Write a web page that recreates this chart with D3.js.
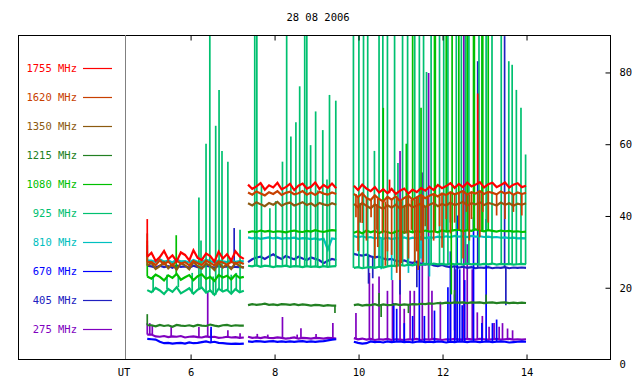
<!DOCTYPE html>
<html><head><meta charset="utf-8">
<script src="https://cdn.jsdelivr.net/npm/d3@7"></script>
<style>body{margin:0;background:#fff;} svg{display:block;font-family:"DejaVu Sans Mono",monospace;}</style>
</head><body><svg id="c" width="640" height="384"></svg>
<script>
const title = "28 08 2006";
const freqs = ["1755 MHz","1620 MHz","1350 MHz","1215 MHz","1080 MHz","925 MHz","810 MHz","670 MHz","405 MHz","275 MHz"];
const colors = ["#ff0000","#c84000","#8c5a10","#228022","#00c000","#00c070","#00c0c0","#0000ff","#2020c0","#8000c0"];
const segStarts = [4.98, 7.38, 9.90];
const segCounts = [24, 22, 42];
const step = 0.1;
const xTicks = [6, 8, 10, 12, 14];
const yTicks = [0, 20, 40, 60, 80];

// sampled readings (seg1 | seg2 | seg3)
const f1755 = [28.5,29.6,27.3,28.4,30.1,27.8,28.9,27.2,29.7,29.0,27.5,30.3,28.2,27.6,29.4,28.7,27.1,29.9,28.0,29.2,27.4,30.0,28.6,27.9,
 48.6,47.4,48.1,49.0,47.2,48.4,47.8,49.1,47.3,47.9,48.8,47.1,48.3,48.9,47.5,48.0,49.2,47.4,48.5,47.7,48.9,47.6,
 48.3,47.1,48.6,47.5,46.8,47.9,46.4,47.3,46.2,47.4,46.0,46.9,47.5,46.1,47.2,46.5,47.6,46.9,48.0,47.1,48.5,47.6,48.2,49.0,47.7,48.8,47.9,49.2,48.1,48.6,49.3,47.8,48.7,49.1,47.9,48.5,49.2,47.8,48.6,49.0,47.9,48.3];
const f1620 = [27.0,27.0,26.2,27.5,26.4,27.2,26.0,27.4,26.6,27.0,26.1,27.3,26.7,26.2,27.4,26.8,26.1,27.2,26.9,26.3,27.1,26.6,27.0,26.5,
 46.4,45.8,46.7,46.1,45.6,46.5,46.0,46.8,45.7,46.3,46.6,45.9,46.2,46.8,45.8,46.4,45.7,46.6,46.1,45.8,46.4,46.0,
 46.0,45.1,46.2,44.9,44.3,45.6,44.6,43.9,45.2,44.4,45.3,44.0,44.9,45.5,44.4,45.1,45.7,44.8,45.5,46.0,45.3,46.1,45.7,46.5,45.9,46.3,46.8,45.8,46.5,46.1,46.8,46.0,46.6,46.3,45.9,46.7,46.1,46.5,45.8,46.4,46.0,46.3];
const f1350 = [26.0,26.8,25.1,25.9,27.0,25.3,26.4,24.9,26.7,26.1,25.0,27.1,25.8,25.2,26.6,26.0,24.8,26.9,25.5,26.3,25.1,26.8,25.9,25.4,
 43.4,42.8,43.7,43.1,42.6,43.5,43.0,43.8,42.7,43.3,43.6,42.8,43.2,43.7,42.9,43.4,42.6,43.5,43.1,42.8,43.4,43.0,
 43.2,42.3,43.5,42.7,42.0,43.1,42.4,41.8,42.9,42.2,43.0,41.9,42.6,43.1,42.3,42.8,43.3,42.4,43.0,43.5,42.6,43.2,42.8,43.6,42.9,43.3,43.8,42.8,43.4,43.1,43.7,42.9,43.5,43.2,42.8,43.6,43.0,43.4,42.7,43.3,43.0,43.4];
const f1215 = [9.4,9.4,9.1,9.5,9.2,9.4,9.0,9.5,9.3,9.2,9.4,9.1,9.5,9.3,9.2,9.6,9.3,9.1,9.4,9.5,9.2,9.4,9.3,9.3,
 15.0,15.3,15.1,15.2,15.4,15.1,15.2,15.0,15.3,15.2,15.1,15.3,15.0,15.2,15.1,14.9,15.1,15.0,14.8,15.0,14.9,14.9,
 15.0,15.2,14.9,15.1,15.0,15.3,14.9,15.2,15.0,15.1,15.3,15.0,15.2,15.1,15.3,15.2,15.4,15.3,15.5,15.4,15.6,15.5,15.7,15.6,15.8,15.7,15.8,15.6,15.8,15.7,15.8,15.6,15.7,15.8,15.6,15.7,15.8,15.6,15.7,15.6,15.7,15.6];
const f1080 = [23.0,22.4,23.5,22.9,21.9,23.3,22.6,23.7,22.1,22.8,23.4,22.0,23.1,23.6,22.3,22.9,21.8,23.4,22.7,23.2,22.2,23.5,22.6,22.9,
 35.3,35.6,35.4,35.8,35.5,35.7,35.4,35.6,35.5,35.3,35.6,35.8,35.5,35.4,35.7,35.5,35.9,35.6,35.4,35.7,35.9,35.8,
 35.2,35.6,35.0,35.8,35.3,35.7,35.1,35.6,35.4,35.0,35.5,35.8,35.2,35.6,35.3,35.7,35.4,35.8,35.5,35.6,35.3,35.9,35.5,35.7,35.9,36.0,35.6,35.9,35.7,36.1,35.8,35.6,35.9,35.7,35.5,35.8,35.6,35.7,35.5,35.6,35.4,35.5];
const f925 = [19.2,18.6,19.8,19.1,18.1,19.5,18.7,20.0,18.3,19.0,19.7,18.2,19.3,19.9,18.5,19.1,17.9,19.6,18.8,19.3,18.2,19.5,18.6,19.0,
 26.0,25.8,26.1,25.7,26.0,25.9,25.6,25.9,25.8,26.0,25.7,25.9,25.8,25.6,25.9,25.7,25.8,25.6,25.9,25.7,25.8,25.9,
 25.4,25.6,25.3,25.5,25.6,25.4,25.7,25.5,25.8,26.0,25.9,26.2,26.0,26.3,26.1,26.4,26.2,26.5,26.3,26.6,26.4,26.5,26.3,26.6,26.4,26.5,26.3,26.6,26.4,26.5,26.3,26.5,26.4,26.6,26.3,26.5,26.4,26.5,26.3,26.4,26.5,26.4];
const f810 = [27.4,27.4,27.0,27.8,27.1,27.5,26.9,27.7,27.2,27.3,26.9,27.6,27.1,27.0,27.7,27.3,26.9,27.5,27.2,27.0,27.4,27.1,27.3,27.2,
 33.9,33.6,33.8,33.5,33.7,33.9,33.6,33.8,33.5,33.7,33.6,33.8,33.5,33.7,33.6,33.4,33.6,33.3,33.5,30.5,33.6,33.4,
 34.3,33.9,34.2,33.8,34.0,33.6,33.9,33.5,33.8,33.4,33.7,33.6,33.9,33.5,33.8,33.6,34.0,33.7,33.9,33.8,34.1,33.9,34.2,34.0,34.3,34.1,34.2,34.0,34.3,34.1,34.2,34.0,34.1,33.9,34.0,33.8,33.9,33.7,33.8,33.6,33.7,33.6];
const f670 = [5.6,5.5,5.4,4.8,4.4,4.5,4.3,4.4,4.5,4.3,4.6,4.4,4.5,4.7,4.9,4.6,4.8,4.5,4.4,4.3,4.2,4.3,4.2,4.3,
 4.9,4.8,5.0,4.9,4.8,4.9,5.0,4.8,4.9,4.8,4.9,4.8,4.9,5.0,4.8,4.9,4.8,4.9,5.0,5.2,5.4,5.5,
 4.8,4.5,4.3,4.4,4.9,4.7,4.8,4.6,4.9,4.7,4.8,4.9,4.7,4.8,4.6,4.8,4.9,4.7,4.8,4.7,4.9,4.8,4.6,4.8,4.7,4.9,4.8,4.7,4.9,4.8,4.7,4.8,4.9,4.7,4.8,4.9,4.8,4.6,4.7,4.8,4.9,4.8];
const f405 = [26,25.8,25.5,26.0,25.6,25.9,25.4,26.1,25.7,25.8,25.5,26.0,25.6,25.5,26.0,25.7,25.5,25.9,25.6,25.8,25.5,25.7,25.6,25.6,
 27.0,27.8,28.3,28.5,27.9,28.6,29.2,28.4,27.9,28.7,28.2,27.8,28.5,28.0,27.6,28.3,27.9,27.5,26.7,27.4,27.9,27.6,
 29.3,29.0,28.8,29.1,28.6,28.3,28.5,28.0,27.7,27.9,27.4,27.2,27.5,27.0,26.8,27.1,26.5,26.3,26.6,26.1,25.9,26.2,25.8,25.6,25.9,25.5,25.7,25.4,25.6,25.3,25.5,25.4,25.6,25.3,25.5,25.4,25.6,25.3,25.5,25.4,25.5,25.4];
const f275 = [6.8,6.8,6.3,6.2,6.4,6.1,6.3,6.2,6.4,6.0,6.2,6.3,6.1,6.0,6.3,6.1,6.2,5.9,6.0,6.2,6.0,6.1,5.9,6.0,
 6.2,5.9,6.0,5.8,6.1,5.9,5.8,6.0,5.9,5.7,5.8,6.0,5.7,5.9,5.8,5.7,5.9,5.8,5.7,5.9,5.8,5.7,
 5.8,5.5,5.7,5.4,5.6,5.3,5.5,5.4,5.6,5.3,5.5,5.4,5.3,5.5,5.4,5.6,5.3,5.5,5.4,5.6,5.5,5.3,5.5,5.4,5.6,5.5,5.4,5.6,5.5,5.4,5.6,5.5,5.4,5.5,5.6,5.4,5.5,5.6,5.4,5.5,5.4,5.5];

// spikes: [hour, peak value]
const s1755 = [[4.98,39],[12.85,74],[10.75,50]];
const s1620 = [[4.98,33],[9.95,39.5],[10.0,30],[10.1,37.9],[10.2,33],[10.31,39.5],[10.4,28],[10.47,31.2],[10.58,35],[10.65,26],[10.7,30],[10.8,29],[10.92,24],[11.0,22],[11.03,26.7],[11.15,35],[11.2,28],[11.27,36],[11.35,27],[11.4,30],[11.43,24.8],[11.5,33],[11.55,27],[11.66,36],[11.8,33],[11.94,37],[12.0,31],[12.1,39],[12.2,35],[12.3,38],[12.4,36],[12.5,28],[12.58,41],[12.65,33],[12.7,39],[12.85,36],[12.9,34],[12.97,41],[13.1,38],[13.3,40],[13.5,39],[13.7,41],[13.9,40]];
const s1350 = [[4.98,35],[10.05,38],[10.45,36],[11.1,35],[11.6,37],[12.2,38]];
const s1215 = [[4.98,12.5],[9.45,12.8],[10.5,18.4],[10.55,11.7],[11.2,12.8],[12.3,19.2],[13.05,18]];
const s1080 = [[4.98,30],[5.67,34.5],[10.6,70],[11.15,60],[11.3,92],[11.5,70],[11.82,92],[11.84,92],[12.1,92],[12.22,18],[12.24,92],[12.4,92],[12.6,92],[12.75,92],[12.77,92],[12.95,92],[12.97,92],[13.1,92]];
const s925 = [[5.12,23],[5.45,23.5],[5.72,23],[6.05,24],[6.21,45],[6.26,33],[6.38,60],[6.47,92],[6.55,23],[6.61,65],[6.69,75],[6.76,58],[6.9,55],[6.98,23.5],[7.1,24],[7.19,36],
 [7.54,92],[7.59,92],[7.7,48.5],[7.9,42],[8.04,44],[8.2,55],[8.3,92],[8.4,62],[8.52,66],[8.61,76],[8.73,92],[8.78,92],[8.87,59.6],[8.99,69],[9.04,47],[9.16,63.8],[9.26,50],[9.32,73.6],[9.47,72],
 [9.89,92],[10.02,92],[10.13,92],[10.23,92],[10.39,58],[10.5,92],[10.59,92],[10.7,92],[10.87,92],[10.95,54.6],[11.06,92],[11.18,92],[11.35,92],[11.46,92],[11.56,92],[11.63,80],[11.74,92],[11.94,92],[12.04,92],[12.14,92],[12.34,92],[12.46,92],[12.56,92],[12.64,92],[12.88,92],[13.05,92],[13.19,92],[13.41,92],[13.59,83],[13.67,82],[13.77,75],[13.88,70],[13.99,57]];
const s810 = [[4.98,31.7],[10.55,25],[10.8,22],[11.2,24],[11.5,28],[11.7,23]];
const s670 = [[6.5,9],[10.85,15.6],[10.92,14],[11.1,10],[11.3,12],[11.46,32],[11.58,12],[11.82,13.5],[12.14,20],[12.2,30],[12.3,18],[12.36,40],[12.42,25],[12.48,15],[12.54,22],[12.75,39.5],[12.95,10],[13.05,39],[13.2,10],[13.3,11]];
const s405 = [[7.05,36.5],[10.25,21],[10.35,22.5],[11.0,18],[11.4,20],[12.3,8],[12.85,83],[13.49,90],[13.52,15]];
const s275 = [[4.98,10],[5.04,10],[5.1,9.5],[5.55,8.9],[6.21,8.9],[6.42,18.7],[6.5,8.2],[6.9,8],[7.19,7.2],
 [7.6,7],[7.85,6.8],[8.2,11.7],[8.55,6.8],[8.64,8.6],[9.0,7],[9.4,10],
 [9.95,12.8],[10.27,24],[10.35,21],[10.5,23],[10.7,19],[10.82,22],[11.0,58],[11.1,14],[11.24,19],[11.34,19],[11.53,52],[11.68,79.7],[11.76,19],[11.96,16],[12.2,16],[12.32,25],[12.52,90],[12.6,32],[12.72,25],[12.84,13],[12.96,12],[13.12,9],[13.24,10],[13.36,9],[13.44,10],[13.56,8.5],[13.68,8]];

const values = [f1755,f1620,f1350,f1215,f1080,f925,f810,f670,f405,f275];
const spikes = [s1755,s1620,s1350,s1215,s1080,s925,s810,s670,s405,s275];

const svg = d3.select("#c");
const L = 18, R = 610, T = 35, B = 359, UTX = 125;
const x = d3.scaleLinear().domain([4.45, 16]).range([UTX, R]);
const y = d3.scaleLinear().domain([0, 90.3]).range([B, T]);

svg.append("text").attr("x", 318).attr("y", 21).attr("text-anchor", "middle")
  .attr("font-size", 10.5).text(title);

svg.append("defs").append("clipPath").attr("id", "clip")
  .append("rect").attr("x", UTX).attr("y", T).attr("width", R - UTX).attr("height", B - T);

function sampleTimes() {
  const out = [];
  segStarts.forEach((s, k) => { for (let i = 0; i < segCounts[k]; i++) out.push({t: s + i * step, seg: k}); });
  return out;
}
const times = sampleTimes();

const plot = svg.append("g").attr("clip-path", "url(#clip)");
const line = d3.line().defined(d => d != null).x(d => x(d.t)).y(d => y(d.v));

for (let si = freqs.length - 1; si >= 0; si--) {
  const vals = values[si];
  const pts = [];
  vals.forEach((v, i) => {
    if (i > 0 && times[i].seg !== times[i - 1].seg) pts.push(null);
    pts.push({t: times[i].t, v: v});
  });
  const g = plot.append("g");
  spikes[si].forEach(([t, v]) => {
    let best = 0, bd = Infinity;
    times.forEach((tt, i) => { const d = Math.abs(tt.t - t); if (d < bd) { bd = d; best = i; } });
    const base = vals[best];
    g.append("line").attr("x1", x(t)).attr("x2", x(t)).attr("y1", y(base)).attr("y2", y(v))
      .attr("stroke", colors[si]).attr("stroke-width", 1.7);
  });
  g.append("path").datum(pts).attr("d", line).attr("fill", "none")
    .attr("stroke", colors[si]).attr("stroke-width", 2.2).attr("stroke-linejoin", "miter");
}

svg.append("rect").attr("x", L + 0.5).attr("y", T + 0.5).attr("width", R - L).attr("height", B - T)
  .attr("fill", "none").attr("stroke", "#000");
svg.append("line").attr("x1", UTX + 0.5).attr("x2", UTX + 0.5).attr("y1", T).attr("y2", B)
  .attr("stroke", "#808080");

const xAxisB = d3.axisBottom(x).tickValues(xTicks).tickSize(-5).tickPadding(9).tickFormat(d3.format("d"));
const gxb = svg.append("g").attr("transform", `translate(0.5,${B + 0.5})`).call(xAxisB);
gxb.select(".domain").remove();
const xAxisT = d3.axisTop(x).tickValues(xTicks).tickSize(-5).tickFormat("");
const gxt = svg.append("g").attr("transform", `translate(0.5,${T + 0.5})`).call(xAxisT);
gxt.select(".domain").remove();
svg.append("text").attr("x", 124).attr("y", 376).attr("text-anchor", "middle").attr("font-size", 10.5).text("UT");

const yAxis = d3.axisRight(y).tickValues(yTicks).tickSize(-5).tickPadding(9).tickFormat(d3.format("d"));
const gy = svg.append("g").attr("transform", `translate(${R + 0.5},0.5)`).call(yAxis);
gy.select(".domain").remove();
gy.selectAll(".tick").filter(d => d === 0).select("line").remove();
gy.selectAll(".tick").filter(d => d === 0).select("text").attr("dy", "0.75em");

svg.selectAll(".tick text").attr("font-family", "DejaVu Sans Mono, monospace").attr("font-size", 10.5).attr("fill", "#000");
svg.selectAll(".tick line").attr("stroke", "#000");

freqs.forEach((f, i) => {
  const ly = 68 + i * 29;
  svg.append("text").attr("x", 77).attr("y", ly + 4).attr("text-anchor", "end")
    .attr("font-size", 10.5).attr("fill", colors[i]).text(f);
  svg.append("line").attr("x1", 83).attr("x2", 112).attr("y1", ly + 0.5).attr("y2", ly + 0.5)
    .attr("stroke", colors[i]).attr("stroke-width", 1.2);
});
</script>
</body></html>
